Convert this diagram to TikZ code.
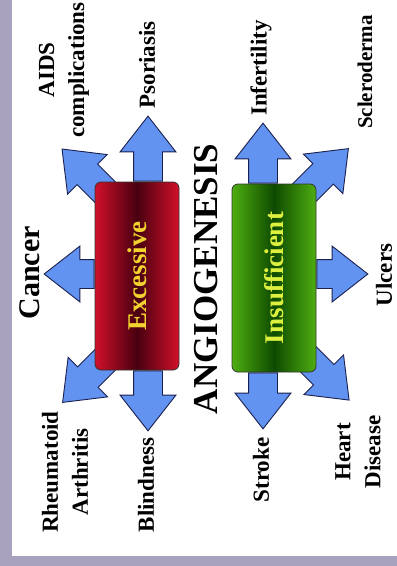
\documentclass[tikz,border=0pt]{standalone}
\usepackage{fontspec}
\setmainfont{Liberation Serif}
\usetikzlibrary{shapes.arrows}
\pgfdeclarelayer{back}
\pgfsetlayers{back,main}
\definecolor{lavender}{HTML}{A8A2BE}
\definecolor{exred}{HTML}{D0102A}
\definecolor{exdark}{HTML}{480010}
\definecolor{lkgreen}{HTML}{4EAE10}
\definecolor{lkdark}{HTML}{0E4A00}
\definecolor{exyellow}{HTML}{F2D22E}
\definecolor{lkyellow}{HTML}{DDF040}
\definecolor{arrowblue}{HTML}{6393F0}
\definecolor{arrowline}{HTML}{1A2050}

\begin{document}
\begin{tikzpicture}[x=1pt, y=-1pt]
{
	\tikzstyle{excess} = [rectangle, rounded corners=6pt, minimum width=84pt, minimum height=188pt, draw=black!80, line width=0.8pt, left color=exred, right color=exred, middle color=exdark, text=exyellow, font=\bfseries\fontsize{27}{30}\selectfont]
	\tikzstyle{lack} = [excess, left color=lkgreen, right color=lkgreen, middle color=lkdark, text=lkyellow]
	\tikzstyle{illness} = [rotate=90, align=center, text=black, font=\bfseries\fontsize{23}{30}\selectfont]
	\tikzstyle{fatarrow} = [single arrow, draw=arrowline, line width=0.9pt, fill=arrowblue, inner xsep=0pt, inner ysep=14pt, single arrow head extend=13.5pt, single arrow tip angle=76, anchor=tail]

	\useasboundingbox (0,0) rectangle (397,566);

	\node (exc) [excess] at (137,276) {\rotatebox{90}{Excessive}};
	\node (ins) [lack] at (274,278) {\rotatebox{90}{Insufficient}};
	\node (title) [rotate=90, font=\bfseries\fontsize{35}{40}\selectfont] at (206,279) {ANGIOGENESIS};

	% frame and arrows, behind the boxes
	\begin{pgfonlayer}{back}
	\fill[white] (0,0) rectangle (397,566);
	\fill[lavender] (0,0) rectangle (12,566);
	\fill[lavender] (0,556) rectangle (397,566);
	\node (arr-psor) [fatarrow, rotate=90, minimum height=65pt] at ([xshift=11pt]exc.north) {};
	\node (arr-blind) [fatarrow, rotate=-90, minimum height=60pt] at ([xshift=11pt]exc.south) {};
	\node (arr-cancer) [fatarrow, rotate=180, minimum height=50pt] at ([yshift=2pt]exc.west) {};
	\node (arr-aids) [fatarrow, rotate=135, minimum height=64pt] at ([xshift=13pt, yshift=-13pt]exc.north west) {};
	\node (arr-rheum) [fatarrow, rotate=225, minimum height=66pt] at ([xshift=15pt, yshift=15pt]exc.south west) {};
	\node (arr-infert) [fatarrow, rotate=90, minimum height=60pt] at ([xshift=-11pt]ins.north) {};
	\node (arr-stroke) [fatarrow, rotate=-90, minimum height=56pt] at ([xshift=-11pt]ins.south) {};
	\node (arr-ulcer) [fatarrow, rotate=0, minimum height=51pt] at ([yshift=4pt]ins.east) {};
	\node (arr-sclero) [fatarrow, rotate=45, minimum height=66pt] at ([xshift=-15pt, yshift=-12pt]ins.north east) {};
	\node (arr-heart) [fatarrow, rotate=-45, minimum height=67pt] at ([xshift=-15pt, yshift=20pt]ins.south east) {};
	\end{pgfonlayer}

	% diseases
	\node (cancer) [illness, font=\bfseries\fontsize{30}{34}\selectfont] at (30,273) {Cancer};
	\node (aids) [illness] at (64,70) {AIDS\\complications};
	\node (psor) [illness] at (147,65) {Psoriasis};
	\node (rheum) [illness] at (65,472) {Rheumatoid\\Arthritis};
	\node (blind) [illness] at (146,485) {Blindness};
	\node (infert) [illness] at (261,68) {Infertility};
	\node (sclero) [illness, font=\bfseries\fontsize{21}{30}\selectfont] at (365,72) {Scleroderma};
	\node (ulcer) [illness] at (384,275) {Ulcers};
	\node (stroke) [illness] at (261,470) {Stroke};
	\node (heart) [illness] at (358,452) {Heart\\Disease};
}
\end{tikzpicture}
\end{document}
